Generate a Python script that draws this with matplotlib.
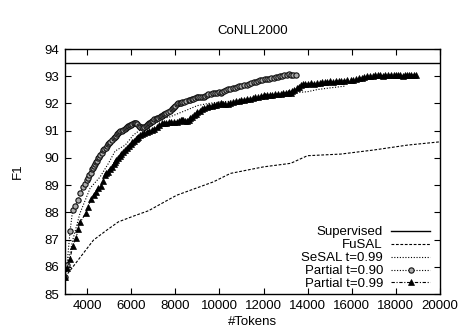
import matplotlib
matplotlib.use("Agg")
import matplotlib.pyplot as plt

# === DATA ===
SUPERVISED_F1 = 93.5

fusal_tokens = [3000, 4290, 4900, 5420, 6100, 6790, 7770, 8070, 9730, 10500,
                12000, 13230, 13990, 15500, 17000, 18530, 20000]
fusal_f1 = [85.62, 86.98, 87.35, 87.65, 87.86, 88.06, 88.50, 88.63, 89.12, 89.43,
            89.67, 89.80, 90.08, 90.14, 90.29, 90.47, 90.59]

sesal_tokens = [3000, 3350, 3680, 4140, 4590, 4970, 5270, 5730, 6100, 6400,
                6940, 7470, 7770, 8100, 8530, 9000, 9500, 10000, 10500, 11000,
                11500, 12000, 12500, 13000, 13500, 13990, 14440, 15000, 15730]
sesal_f1 = [85.62, 86.98, 87.97, 88.89, 89.30, 89.80, 90.25, 90.47, 90.84, 91.02,
            91.20, 91.45, 91.51, 91.62, 91.76, 91.92, 92.00, 92.05, 92.08, 92.15,
            92.20, 92.30, 92.32, 92.36, 92.40, 92.43, 92.51, 92.57, 92.64]

p90_tokens = [3000, 3090, 3230, 3350, 3450, 3600, 3700, 3800, 3900, 4000,
              4050, 4100, 4160, 4210, 4260, 4300, 4350, 4400, 4450, 4500,
              4550, 4600, 4660, 4730, 4790, 4850, 4900, 4950, 5000, 5050,
              5120, 5200, 5250, 5300, 5350, 5400, 5450, 5500, 5570, 5640,
              5700, 5750, 5800, 5850, 5900, 5950, 6000, 6050, 6120, 6180,
              6230, 6280, 6340, 6400, 6470, 6550, 6600, 6650, 6700, 6750,
              6800, 6850, 6900, 6950, 7000, 7050, 7110, 7170, 7230, 7300,
              7350, 7400, 7450, 7500, 7550, 7600, 7680, 7770, 7830, 7900,
              7950, 8000, 8070, 8140, 8200, 8250, 8320, 8400, 8500, 8600,
              8680, 8750, 8820, 8900, 8970, 9050, 9120, 9200, 9280, 9350,
              9420, 9500, 9620, 9730, 9820, 9900, 9980, 10050, 10120, 10200,
              10300, 10400, 10500, 10600, 10700, 10800, 10900, 11000, 11130, 11260,
              11350, 11450, 11550, 11650, 11750, 11850, 11950, 12050, 12150, 12250,
              12350, 12460, 12550, 12650, 12750, 12850, 12950, 13050, 13150, 13250,
              13350, 13450]
p90_f1 = [85.62, 86.05, 87.31, 88.10, 88.25, 88.45, 88.70, 88.93, 89.05, 89.20,
          89.25, 89.38, 89.45, 89.58, 89.62, 89.72, 89.78, 89.85, 89.90, 89.98,
          90.05, 90.10, 90.18, 90.28, 90.33, 90.38, 90.45, 90.50, 90.55, 90.60,
          90.66, 90.73, 90.76, 90.82, 90.86, 90.90, 90.94, 90.98, 91.00, 91.02,
          91.06, 91.10, 91.14, 91.18, 91.17, 91.20, 91.22, 91.25, 91.27, 91.29,
          91.28, 91.25, 91.18, 91.14, 91.12, 91.10, 91.14, 91.18, 91.20, 91.25,
          91.27, 91.30, 91.32, 91.35, 91.37, 91.42, 91.43, 91.45, 91.48, 91.50,
          91.53, 91.55, 91.58, 91.60, 91.63, 91.66, 91.69, 91.72, 91.78, 91.82,
          91.87, 91.92, 91.98, 92.03, 92.00, 92.02, 92.04, 92.05, 92.09, 92.12,
          92.13, 92.15, 92.18, 92.20, 92.23, 92.25, 92.24, 92.22, 92.25, 92.28,
          92.30, 92.33, 92.35, 92.37, 92.39, 92.40, 92.41, 92.40, 92.43, 92.45,
          92.49, 92.52, 92.53, 92.55, 92.57, 92.62, 92.63, 92.65, 92.66, 92.67,
          92.71, 92.75, 92.77, 92.80, 92.83, 92.85, 92.87, 92.88, 92.89, 92.90,
          92.92, 92.93, 92.96, 92.97, 93.00, 93.02, 93.04, 93.05, 93.07, 93.06,
          93.05, 93.04]

p99_tokens = [3000, 3100, 3227, 3350, 3500, 3600, 3700, 3950, 4050, 4180,
              4300, 4400, 4500, 4620, 4720, 4820, 4880, 4950, 5030, 5120,
              5200, 5270, 5330, 5400, 5480, 5550, 5640, 5730, 5820, 5900,
              5980, 6050, 6120, 6200, 6260, 6330, 6420, 6500, 6600, 6700,
              6820, 6940, 7050, 7170, 7280, 7400, 7500, 7600, 7700, 7800,
              7930, 8070, 8160, 8250, 8310, 8370, 8450, 8530, 8600, 8680,
              8770, 8850, 8920, 9000, 9100, 9200, 9320, 9440, 9550, 9650,
              9750, 9850, 9950, 10050, 10150, 10250, 10380, 10500, 10620, 10750,
              10870, 11000, 11130, 11260, 11380, 11500, 11620, 11750, 11870, 12000,
              12080, 12170, 12280, 12400, 12520, 12650, 12770, 12900, 13000, 13100,
              13170, 13230, 13300, 13400, 13500, 13590, 13680, 13790, 13900, 14020,
              14140, 14290, 14440, 14540, 14650, 14770, 14890, 15020, 15150, 15270,
              15400, 15520, 15650, 15800, 15950, 16070, 16200, 16320, 16450, 16570,
              16700, 16820, 16950, 17060, 17170, 17280, 17400, 17520, 17650, 17770,
              17900, 18000, 18100, 18200, 18300, 18400, 18500, 18600, 18700, 18800,
              18900]
p99_f1 = [85.62, 85.95, 86.30, 86.75, 87.05, 87.40, 87.65, 87.98, 88.20, 88.49,
          88.65, 88.75, 88.90, 88.96, 89.15, 89.37, 89.44, 89.50, 89.58, 89.65,
          89.76, 89.86, 89.92, 89.98, 90.06, 90.15, 90.22, 90.29, 90.38, 90.45,
          90.52, 90.58, 90.63, 90.70, 90.74, 90.78, 90.83, 90.88, 90.92, 90.96,
          90.99, 91.02, 91.07, 91.12, 91.20, 91.27, 91.28, 91.30, 91.31, 91.32,
          91.33, 91.33, 91.37, 91.40, 91.41, 91.39, 91.36, 91.35, 91.38, 91.46,
          91.52, 91.58, 91.63, 91.68, 91.73, 91.78, 91.83, 91.88, 91.90, 91.92,
          91.94, 91.96, 91.98, 92.00, 91.99, 91.98, 91.99, 92.00, 92.04, 92.08,
          92.10, 92.12, 92.13, 92.15, 92.18, 92.20, 92.22, 92.25, 92.27, 92.30,
          92.29, 92.30, 92.31, 92.32, 92.34, 92.35, 92.36, 92.38, 92.39, 92.40,
          92.41, 92.40, 92.44, 92.49, 92.55, 92.62, 92.68, 92.70, 92.72, 92.73,
          92.74, 92.73, 92.74, 92.76, 92.78, 92.79, 92.80, 92.81, 92.80, 92.82,
          92.83, 92.83, 92.84, 92.85, 92.86, 92.87, 92.88, 92.92, 92.95, 92.98,
          93.00, 93.01, 93.02, 93.04, 93.04, 93.03, 93.02, 93.04, 93.05, 93.04,
          93.03, 93.04, 93.04, 93.03, 93.02, 93.04, 93.06, 93.05, 93.04, 93.05,
          93.04]

x_ticks = [4000, 6000, 8000, 10000, 12000, 14000, 16000, 18000, 20000]
y_ticks = [85, 86, 87, 88, 89, 90, 91, 92, 93, 94]

FS = 9.5
plt.rcParams["font.family"] = ["Liberation Sans", "DejaVu Sans"]
plt.rcParams["font.size"] = FS

fig = plt.figure(figsize=(4.61, 3.34), dpi=100)
ax = fig.add_axes([65 / 461, 40 / 334, 375 / 461, 245 / 334])

ax.axhline(SUPERVISED_F1, color="black", lw=1.0, label="Supervised")
ax.plot(fusal_tokens, fusal_f1, color="black", lw=0.8, ls=(0, (2.5, 1.5)),
        label="FuSAL")
ax.plot(sesal_tokens, sesal_f1, color="black", lw=0.8, ls=(0, (1, 1.5)),
        label="SeSAL t=0.99")
ax.plot(p90_tokens, p90_f1, color="black", lw=0.8, ls=(0, (1, 1.5)),
        marker="o", ms=3.8, mfc="#aaaaaa", mec="#111111", mew=0.8,
        label="Partial t=0.90")
ax.plot(p99_tokens, p99_f1, color="black", lw=0.8, ls=(0, (3, 1.5, 1, 1.5)),
        marker="^", ms=3.8, mfc="black", mec="black", mew=0.5,
        label="Partial t=0.99")

ax.set_xlim(3000, 20000)
ax.set_ylim(85, 94)
ax.set_xticks(x_ticks)
ax.set_yticks(y_ticks)
ax.tick_params(direction="in", length=4, width=0.8, top=True, right=True,
               labelsize=FS, pad=4)
for s in ax.spines.values():
    s.set_linewidth(1.0)

ax.set_title("CoNLL2000", fontsize=FS, pad=11)
ax.set_xlabel("#Tokens", fontsize=FS, labelpad=3)
ax.set_ylabel("F1", fontsize=FS, labelpad=15)

leg = ax.legend(loc="lower right", bbox_to_anchor=(0.985, 0.0), frameon=False,
                markerfirst=False, handlelength=3.0, handletextpad=0.6,
                labelspacing=0.05, borderpad=0.2, borderaxespad=0.1,
                fontsize=FS)

fig.savefig("out.png", dpi=100)
